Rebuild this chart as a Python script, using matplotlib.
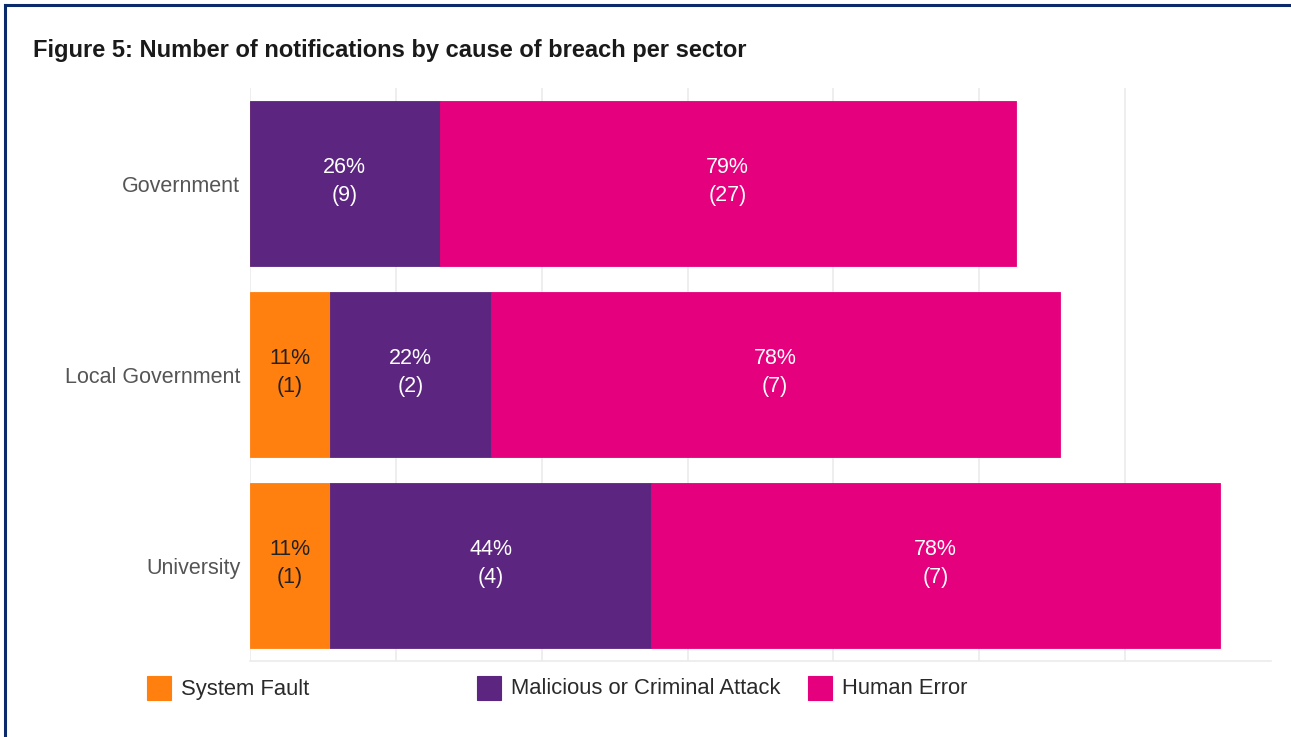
import matplotlib
matplotlib.use("Agg")
import matplotlib.pyplot as plt
from matplotlib.patches import Rectangle
from matplotlib.lines import Line2D

plt.rcParams['font.family'] = ['Liberation Sans', 'DejaVu Sans']

sectors = ["Government", "Local Government", "University"]
causes = ["System Fault", "Malicious or Criminal Attack", "Human Error"]
system_fault_pct = [0, 11, 11]
system_fault_n = [0, 1, 1]
malicious_pct = [26, 22, 44]
malicious_n = [9, 2, 4]
human_error_pct = [79, 78, 78]
human_error_n = [27, 7, 7]

colors = ["#FF7F0F", "#5C2580", "#E5007D"]
label_colors = ["#222222", "white", "white"]

W, H = 1291, 737
fig = plt.figure(figsize=(W / 100, H / 100), dpi=100)
ax = fig.add_axes([250 / W, 1 - 661 / H, (1271 - 250) / W, (661 - 88) / H])

y = list(range(len(sectors)))
left = [0] * len(sectors)
series = [(system_fault_pct, system_fault_n),
          (malicious_pct, malicious_n),
          (human_error_pct, human_error_n)]
for (pct, cnt), col, tcol in zip(series, colors, label_colors):
    ax.barh(y, pct, left=left, height=0.864, color=col, edgecolor=col,
            linewidth=0.6, zorder=3)
    for i, (p, c) in enumerate(zip(pct, cnt)):
        if p > 0:
            ax.text(left[i] + p / 2, y[i] - 0.01, f"{p}%\n({c})", ha="center",
                    va="center", color=tcol, fontsize=15.5, linespacing=1.45,
                    zorder=4)
    left = [l + p for l, p in zip(left, pct)]

ax.set_xlim(0, 140)
ax.set_ylim(2.5, -0.5)
ax.set_xticks(range(0, 121, 20))
ax.set_xticklabels([])
ax.tick_params(axis="x", length=0)
ax.set_yticks(y)
ax.set_yticklabels(sectors, fontsize=15.5, color="#555555")
ax.tick_params(axis="y", length=0, pad=7)
ax.grid(axis="x", color="#EBEBEB", linewidth=1.2, zorder=0)
for s in ["top", "right", "left"]:
    ax.spines[s].set_visible(False)
ax.spines["bottom"].set_color("#EBEBEB")
ax.spines["bottom"].set_linewidth(1.2)

fig.text(33 / W, 1 - 50 / H, "Figure 5: Number of notifications by cause of breach per sector",
         fontsize=17, fontweight="bold", color="#1A1A1A", va="center", ha="left")

# Legend row along the bottom
leg_x = [147, 477, 808]
for x0, name, col in zip(leg_x, causes, colors):
    fig.patches.append(Rectangle((x0 / W, 1 - 700 / H), 24 / W, 24 / H,
                                 transform=fig.transFigure, facecolor=col,
                                 edgecolor=col, linewidth=0.8))
    fig.text((x0 + 34) / W, 1 - 689 / H, name, fontsize=15.8, color="#2A2A2A",
             va="center", ha="left")

# Frame lines on top and left
navy = "#0B2A6B"
fig.add_artist(Line2D([5 / W, 1], [1 - 5 / H, 1 - 5 / H], transform=fig.transFigure,
                      color=navy, linewidth=2.2))
fig.add_artist(Line2D([5 / W, 5 / W], [0, 1 - 5 / H], transform=fig.transFigure,
                      color=navy, linewidth=2.2))

fig.savefig("out.png", dpi=100, facecolor="white")
